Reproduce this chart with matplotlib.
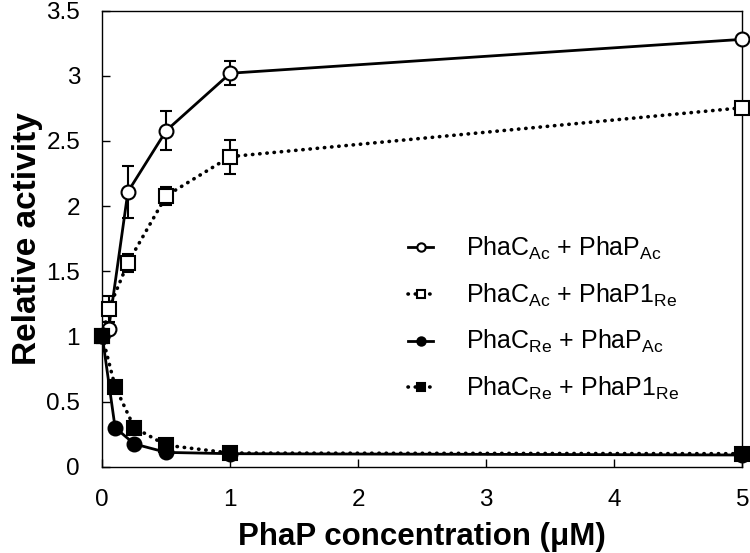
#!/usr/bin/env python

import matplotlib
matplotlib.use('Agg')
from matplotlib import pyplot as plt
from matplotlib.ticker import FormatStrFormatter

plt.rcParams['font.family'] = ['Liberation Sans', 'DejaVu Sans']
plt.rcParams['mathtext.fontset'] = 'custom'
plt.rcParams['mathtext.rm'] = 'Liberation Sans'
plt.rcParams['mathtext.it'] = 'Liberation Sans'

# PhaP concentration (uM)
x_ac = [0, 0.05, 0.2, 0.5, 1, 5]
x_re = [0, 0.1, 0.25, 0.5, 1, 5]

# relative activity
y_acac = [1.0, 1.06, 2.11, 2.58, 3.02, 3.28]
e_acac = [0, 0.0, 0.2, 0.15, 0.09, 0.0]
y_acre = [1.0, 1.21, 1.565, 2.08, 2.38, 2.755]
e_acre = [0, 0.1, 0.07, 0.07, 0.13, 0.0]
y_reac = [1.0, 0.30, 0.175, 0.11, 0.10, 0.09]
e_reac = [0.05, 0, 0, 0, 0, 0]
y_rere = [1.0, 0.615, 0.30, 0.165, 0.105, 0.10]
e_rere = [0.05, 0, 0, 0, 0, 0]

labels = [r'PhaC$_{\mathrm{Ac}}$ + PhaP$_{\mathrm{Ac}}$',
          r'PhaC$_{\mathrm{Ac}}$ + PhaP1$_{\mathrm{Re}}$',
          r'PhaC$_{\mathrm{Re}}$ + PhaP$_{\mathrm{Ac}}$',
          r'PhaC$_{\mathrm{Re}}$ + PhaP1$_{\mathrm{Re}}$']


def main():
    fig = plt.figure(figsize=(7.5, 5.53), dpi=100)
    axe = fig.add_axes([0.1364, 0.156, 0.8533, 0.8247])
    dot = (0, (0.1, 1.9))
    series = [
        (x_ac, y_acac, e_acac, 'o', 'white', '-', labels[0]),
        (x_ac, y_acre, e_acre, 's', 'white', dot, labels[1]),
        (x_re, y_reac, e_reac, 'o', 'black', '-', labels[2]),
        (x_re, y_rere, e_rere, 's', 'black', dot, labels[3]),
    ]
    handles = []
    for i, (x, y, e, mk, fc, ls, lb) in enumerate(series):
        lw = 2 if ls == '-' else 2.6
        axe.errorbar(x, y, yerr=e, fmt='none', ecolor='black', elinewidth=1.5,
                     capsize=4, capthick=1.5, zorder=2 + i, clip_on=False)
        ln, = axe.plot(x, y, marker=mk, markersize=10, markerfacecolor=fc,
                       markeredgecolor='black', markeredgewidth=1.5,
                       color='black', linestyle=ls, linewidth=lw,
                       dash_capstyle='round', label=lb, zorder=3 + i,
                       clip_on=False)
        handles.append(ln)

    axe.legend(handles=handles, loc='center left',
               bbox_to_anchor=(0.478, 0.325), frameon=False,
               borderpad=0, borderaxespad=0,
               fontsize=18, handlelength=1.0, handletextpad=1.3,
               labelspacing=0.78, markerscale=0.6)

    axe.set_xlim(0, 5)
    axe.set_ylim(0, 3.5)
    axe.set_xticks([0, 1, 2, 3, 4, 5])
    axe.set_yticks([0, 0.5, 1, 1.5, 2, 2.5, 3, 3.5])
    axe.yaxis.set_major_formatter(FormatStrFormatter('%g'))
    axe.tick_params(direction='in', length=6, width=1, labelsize=17.5, pad=16)
    for sp in axe.spines.values():
        sp.set_linewidth(1)
    axe.set_xlabel('PhaP concentration (\u03bcM)', fontsize=22.5,
                   fontweight='bold', labelpad=8)
    axe.set_ylabel('Relative activity', fontsize=24, fontweight='bold',
                   labelpad=2)
    plt.savefig('out.png', dpi=100)


if __name__ == '__main__':
    main()
